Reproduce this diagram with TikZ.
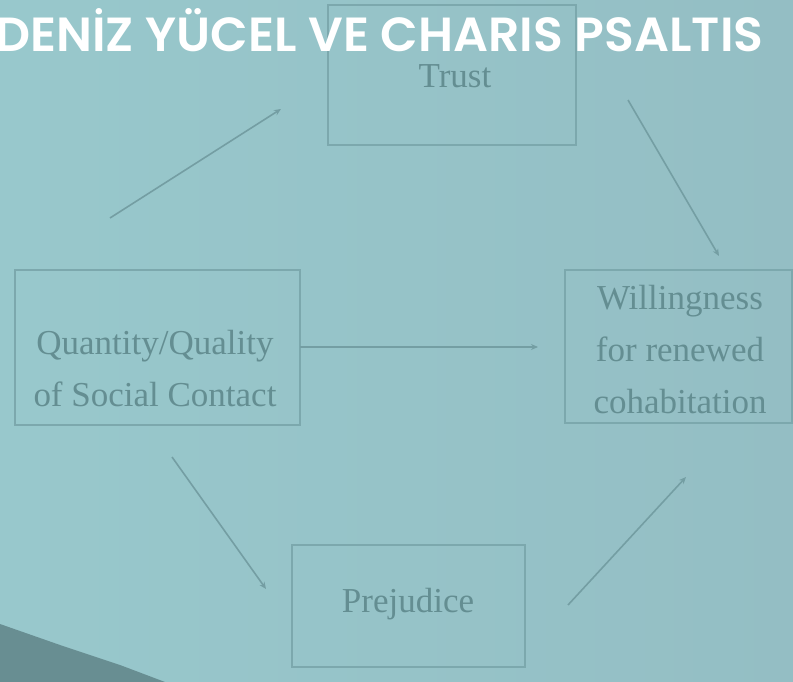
\documentclass[tikz,border=0pt]{standalone}
\usepackage{fontspec}
\setmainfont{Liberation Serif}
\newfontfamily\titlefont{Poppins SemiBold}
\usetikzlibrary{arrows.meta}
\definecolor{bgL}{RGB}{152,200,204}
\definecolor{bgR}{RGB}{148,190,196}
\definecolor{edgec}{RGB}{124,168,173}
\definecolor{inkc}{RGB}{100,142,146}
\definecolor{arrc}{RGB}{116,158,163}
\definecolor{darkc}{RGB}{104,142,146}
\tikzset{
  boxc/.style={draw=edgec, line width=2pt, inner sep=0pt, fill=none},
  labc/.style={text=inkc, align=center, inner sep=0pt, font=\fontsize{35}{52}\selectfont},
  arrw/.style={draw=arrc, line width=1.6pt, -{Stealth[length=7pt,width=6pt]}},
}
\begin{document}
\begin{tikzpicture}[x=1pt,y=-1pt]
\useasboundingbox (0,0) rectangle (793,682);
\shade[left color=bgL, right color=bgR] (0,0) rectangle (793,682);
\fill[darkc] (0,624) -- (60,645) -- (120,665) -- (165,682) -- (0,682) -- cycle;
% boxes
\node[boxc, minimum width=248pt, minimum height=140pt] (trustbox) at (452,75) {};
\node[boxc, minimum width=285pt, minimum height=155pt] (qbox) at (157,347) {};
\node[boxc, minimum width=227pt, minimum height=153pt] (wbox) at (678,346) {};
\node[boxc, minimum width=233pt, minimum height=122pt] (pbox) at (408,606) {};
% labels
\node[labc] (trust) at (455,76) {Trust};
\node[labc] (qtext) at (155,369) {Quantity/Quality\\of Social Contact};
\node[labc] (wtext) at (680,350) {Willingness\\for renewed\\cohabitation};
\node[labc] (ptext) at (408,604) {Prejudice};
% arrows
\coordinate (a1s) at (110,218); \coordinate (a1e) at (281,109);
\coordinate (a2s) at (628,100); \coordinate (a2e) at (719,256);
\coordinate (a3s) at (300,347); \coordinate (a3e) at (538,347);
\coordinate (a4s) at (172,457); \coordinate (a4e) at (266,589);
\coordinate (a5s) at (568,605); \coordinate (a5e) at (686,477);
\draw[arrw] (a1s) -- (a1e);
\draw[arrw] (a2s) -- (a2e);
\draw[arrw] (a3s) -- (a3e);
\draw[arrw] (a4s) -- (a4e);
\draw[arrw] (a5s) -- (a5e);
% title
\node[anchor=base west, inner sep=0pt, text=white] (title) at (-5,52)
  {\resizebox{768pt}{43pt}{\titlefont DENİZ YÜCEL VE CHARIS PSALTIS}};
\end{tikzpicture}
\end{document}
